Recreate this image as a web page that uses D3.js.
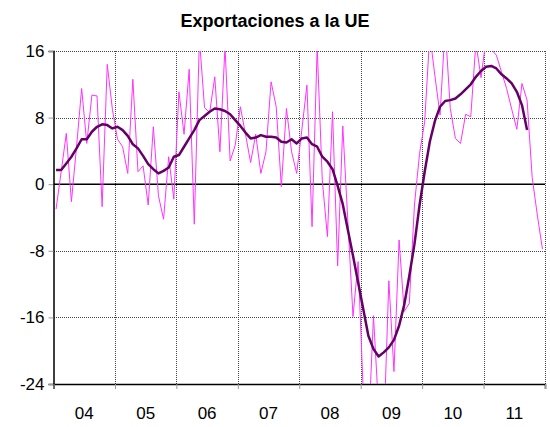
<!DOCTYPE html>
<html>
<head>
<meta charset="utf-8">
<script src="https://cdn.jsdelivr.net/npm/d3@7"></script>
<style>
  body { margin: 0; background: #fff; }
  text { font-family: Arial, "Liberation Sans", sans-serif; }
</style>
</head>
<body>
<svg class="chart" width="550" height="427"></svg>
<script>
// year labels, y ticks, monthly series (Jan 2004 - Dec 2011)
var years = ["04", "05", "06", "07", "08", "09", "10", "11"];
var yTicks = [-24, -16, -8, 0, 8, 16];

var monthly = [
  -3.0, 1.5, 6.1, -2.1, 4.5, 11.5, 4.9, 10.7, 10.6, -2.7, 14.4, 9.0,
  5.4, 4.5, 1.3, 12.6, 1.5, 2.2, -2.5, 6.9, -1.4, -4.2, 3.3, -1.8,
  11.1, 6.0, 13.8, -4.8, 17.5, 9.2, 8.6, 12.9, 3.9, 16.5, 2.8, 4.7,
  9.3, 6.0, 2.6, 6.0, 1.3, 3.9, 12.3, 9.3, -0.3, 9.1, 3.9, 1.3,
  6.5, 11.9, -5.1, 16.5, 0.5, -6.3, 8.7, -9.8, 7.0, -4.5, -15.9, -9.3,
  -25, -30, -15.8, -27, -30, -11.6, -22.5, -6.7, -15.3, -14.3, -2.5, 3.7,
  7.5, 18, 13, 8.3, 19, 9.1, 5.5, 4.9, 8.4, 8.1, 17, 12.8,
  17.5, 16.2, 15.5, 13.5, 11.5, 9.0, 6.6, 12.1, 10.1, 0.8, -3.7, -7.8
];

var trend = [
  1.7, 1.7, 2.5, 3.3, 4.3, 5.4, 5.4, 6.3, 6.9, 7.2, 7.1, 6.7,
  6.9, 6.5, 5.8, 4.8, 4.3, 3.4, 2.4, 1.8, 1.3, 1.6, 2.0, 3.3,
  3.5, 4.5, 5.5, 6.5, 7.7, 8.2, 8.7, 9.1, 9.0, 8.8, 8.4, 7.7,
  7.0, 6.2, 5.5, 5.6, 5.9, 5.7, 5.7, 5.6, 5.1, 5.0, 5.4, 4.9,
  5.5, 5.6, 4.8, 4.5, 3.3, 2.7, 1.8, -0.2, -2.4, -5.5, -8.6, -11.8,
  -15.0, -18.2, -19.8, -20.7, -20.2, -19.6, -18.7, -17.0, -14.5, -11.0, -7.2, -2.5,
  1.5, 5.1, 7.6, 9.3, 10.0, 10.1, 10.3, 10.8, 11.4, 12.0, 12.9, 13.6,
  14.1, 14.2, 13.9, 13.2, 12.7, 12.1, 11.1, 9.5, 6.5
];

var svg = d3.select(".chart");

var x = d3.scaleLinear()
    .domain([0, years.length * 12])
    .range([53.5, 545]);

var y = d3.scaleLinear()
    .domain([-24, 16])
    .range([384, 51]);

svg.append("text")
    .attr("x", 275)
    .attr("y", 27)
    .attr("text-anchor", "middle")
    .attr("font-size", 18)
    .attr("font-weight", "bold")
    .text("Exportaciones a la UE");

svg.append("clipPath")
    .attr("id", "plot")
  .append("rect")
    .attr("x", x(0))
    .attr("y", y(16))
    .attr("width", x(96) - x(0))
    .attr("height", y(-24) - y(16));

// dotted grid
var grid = svg.append("g")
    .attr("stroke", "#444")
    .attr("stroke-width", 1)
    .attr("stroke-dasharray", "1,1")
    .attr("shape-rendering", "crispEdges");

grid.selectAll(".h")
  .data(yTicks.filter(function(d) { return d !== 0 && d !== -24; }))
  .enter().append("line")
    .attr("x1", x(0))
    .attr("x2", x(96))
    .attr("y1", function(d) { return Math.round(y(d)) + 0.5; })
    .attr("y2", function(d) { return Math.round(y(d)) + 0.5; });

grid.selectAll(".v")
  .data(d3.range(1, years.length + 1))
  .enter().append("line")
    .attr("x1", function(d) { return Math.round(x(d * 12)) + 0.5; })
    .attr("x2", function(d) { return Math.round(x(d * 12)) + 0.5; })
    .attr("y1", y(16))
    .attr("y2", y(-24));

// y axis (plain hyphen for negatives)
var yAxis = svg.append("g")
    .attr("transform", "translate(" + x(0) + ",0)")
    .call(d3.axisLeft(y).tickValues(yTicks).tickSize(5).tickPadding(4)
      .tickFormat(function(d) { return String(d); }));
yAxis.select(".domain").attr("stroke", "#000").attr("stroke-width", 1.5);
yAxis.selectAll(".tick line").attr("stroke", "#999");
yAxis.selectAll("text")
    .attr("font-size", 17)
    .attr("fill", "#000")
    .attr("font-family", "Arial, 'Liberation Sans', sans-serif");

// x axis: ticks at year boundaries, labels centred in each year
var xAxis = svg.append("g")
    .attr("transform", "translate(0," + y(-24) + ")")
    .call(d3.axisBottom(x).tickValues(d3.range(0, 97, 12)).tickSize(5).tickFormat(""));
xAxis.select(".domain").attr("stroke", "#000").attr("stroke-width", 1.5);
xAxis.selectAll(".tick line").attr("stroke", "#999");

svg.append("g").selectAll("text")
  .data(years)
  .enter().append("text")
    .attr("x", function(d, i) { return x(i * 12 + 6); })
    .attr("y", y(-24) + 35)
    .attr("text-anchor", "middle")
    .attr("font-size", 17)
    .text(function(d) { return d; });

// zero line
svg.append("line")
    .attr("x1", x(0))
    .attr("x2", x(96))
    .attr("y1", y(0))
    .attr("y2", y(0))
    .attr("stroke", "#000")
    .attr("stroke-width", 1.5);

var line = d3.line()
    .x(function(d, i) { return x(i + 0.5); })
    .y(function(d) { return y(d); });

svg.append("path")
    .datum(monthly)
    .attr("clip-path", "url(#plot)")
    .attr("fill", "none")
    .attr("stroke", "#ff33ff")
    .attr("stroke-width", 1)
    .attr("d", line);

svg.append("path")
    .datum(trend)
    .attr("clip-path", "url(#plot)")
    .attr("fill", "none")
    .attr("stroke", "#660066")
    .attr("stroke-width", 2.5)
    .attr("stroke-linejoin", "round")
    .attr("d", line);
</script>
</body>
</html>
